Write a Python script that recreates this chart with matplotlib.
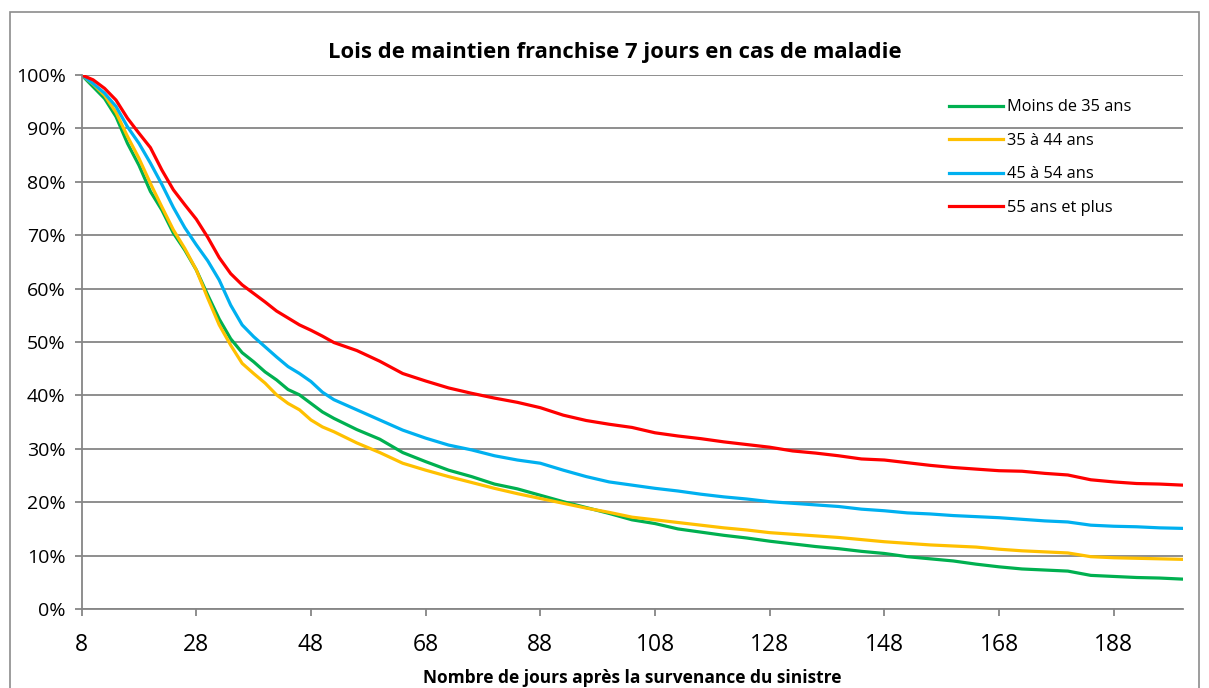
import matplotlib.pyplot as plt
from matplotlib.patches import Rectangle
from matplotlib.ticker import FuncFormatter

# days after the claim (x) and maintenance rates in % per age band
days = [8, 10, 12, 14, 16, 18, 20, 22, 24, 26, 28, 30, 32, 34, 36, 38, 40, 42, 44, 46, 48, 50, 52,
        56, 60, 64, 68, 72, 76, 80, 84, 88, 92, 96, 100, 104, 108, 112, 116, 120, 124, 128,
        132, 136, 140, 144, 148, 152, 156, 160, 164, 168, 172, 176, 180, 184, 188, 192, 196, 200]

moins_35 = [100, 97.8, 95.6, 92.2, 87.2, 83.1, 78.2, 74.7, 70.4, 67.2, 63.5, 58.8, 54.3, 50.6, 48.0,
            46.3, 44.4, 42.9, 41.1, 40.1, 38.5, 36.9, 35.7,
            33.6, 31.8, 29.3, 27.6, 26.0, 24.8, 23.4, 22.5, 21.3, 20.1, 19.0, 17.9, 16.7, 16.0, 15.0,
            14.4, 13.8, 13.3, 12.7, 12.2, 11.7, 11.3, 10.8, 10.4, 9.8, 9.4, 9.0, 8.4, 7.9, 7.5, 7.3,
            7.1, 6.3, 6.1, 5.9, 5.8, 5.6]
de_35_44 = [100, 98.3, 96.2, 93.0, 88.5, 84.4, 79.7, 75.3, 71.0, 67.5, 63.5, 58.2, 53.2, 49.4, 46.0,
            44.1, 42.3, 40.1, 38.5, 37.3, 35.4, 34.1, 33.2,
            31.1, 29.3, 27.3, 26.0, 24.8, 23.7, 22.6, 21.6, 20.7, 19.8, 18.9, 18.1, 17.2, 16.7, 16.2,
            15.7, 15.2, 14.8, 14.3, 14.0, 13.7, 13.4, 13.0, 12.6, 12.3, 12.0, 11.8, 11.6, 11.2, 10.9,
            10.7, 10.5, 9.8, 9.6, 9.5, 9.4, 9.3]
de_45_54 = [100, 98.4, 96.6, 94.1, 90.3, 87.2, 83.5, 79.5, 75.2, 71.4, 68.2, 65.2, 61.6, 56.9, 53.2,
            51.0, 49.1, 47.2, 45.4, 44.1, 42.6, 40.6, 39.2,
            37.3, 35.4, 33.5, 32.0, 30.7, 29.8, 28.7, 27.9, 27.3, 26.0, 24.8, 23.8, 23.2, 22.6, 22.1,
            21.5, 21.0, 20.6, 20.1, 19.8, 19.5, 19.2, 18.7, 18.4, 18.0, 17.8, 17.5, 17.3, 17.1, 16.8,
            16.5, 16.3, 15.7, 15.5, 15.4, 15.2, 15.1]
plus_55 = [100, 99.1, 97.5, 95.3, 91.9, 89.1, 86.4, 82.2, 78.5, 75.7, 73.0, 69.6, 65.8, 62.8, 60.7,
           59.1, 57.5, 55.8, 54.5, 53.2, 52.2, 51.1, 49.9,
           48.4, 46.4, 44.1, 42.7, 41.4, 40.4, 39.5, 38.7, 37.7, 36.3, 35.3, 34.6, 34.0, 33.0, 32.4,
           31.9, 31.3, 30.8, 30.3, 29.6, 29.2, 28.7, 28.1, 27.9, 27.4, 26.9, 26.5, 26.2, 25.9, 25.8,
           25.4, 25.1, 24.2, 23.8, 23.5, 23.4, 23.2]

labels = ["Moins de 35 ans", "35 à 44 ans", "45 à 54 ans", "55 ans et plus"]
colors = ["#00B050", "#FFC000", "#00B0F0", "#FF0000"]
x_ticks = list(range(8, 201, 20))

plt.rcParams["font.family"] = ["Open Sans", "DejaVu Sans"]

fig = plt.figure(figsize=(12.09, 6.88), dpi=100)
ax = fig.add_axes([0.0675, 0.1148, 0.9106, 0.7762])

# outer chart border
fig.patches.append(Rectangle((10 / 1209, -0.01), 1189 / 1209, 1 - 12 / 688 + 0.01,
                             transform=fig.transFigure, fill=False,
                             edgecolor="#8c8c8c", lw=1.2))

for ys, lab, c in zip([moins_35, de_35_44, de_45_54, plus_55], labels, colors):
    ax.plot(days, ys, color=c, lw=2.3, label=lab)

ax.set_xlim(8, 200)
ax.set_ylim(0, 100)
ax.set_xticks(x_ticks)
ax.set_yticks(range(0, 101, 10))
ax.yaxis.set_major_formatter(FuncFormatter(lambda v, p: f"{int(v)}%"))
ax.grid(axis="y", color="#868686", lw=1.3)
ax.set_axisbelow(True)
for s in ["top", "right"]:
    ax.spines[s].set_visible(False)
for s in ["left", "bottom"]:
    ax.spines[s].set_color("#868686")
    ax.spines[s].set_linewidth(1.3)
ax.tick_params(axis="x", labelsize=16.5, length=5, width=1.3, color="#868686", pad=12)
ax.tick_params(axis="y", labelsize=14, length=5, width=1.3, color="#868686", pad=6.5)

fig.text(615 / 1209, 1 - 58 / 688, "Lois de maintien franchise 7 jours en cas de maladie",
         ha="center", va="baseline", fontsize=15.8, fontweight="bold")
fig.text(632 / 1209, 1 - 678 / 688, "Nombre de jours après la survenance du sinistre",
         ha="center", va="center", fontsize=12.5, fontweight="bold")

ax.legend(loc="upper right", bbox_to_anchor=(0.967, 0.982), frameon=False,
          fontsize=11.8, handlelength=3.3, handletextpad=0.25, labelspacing=1.07)

fig.savefig("out.png", dpi=100)
